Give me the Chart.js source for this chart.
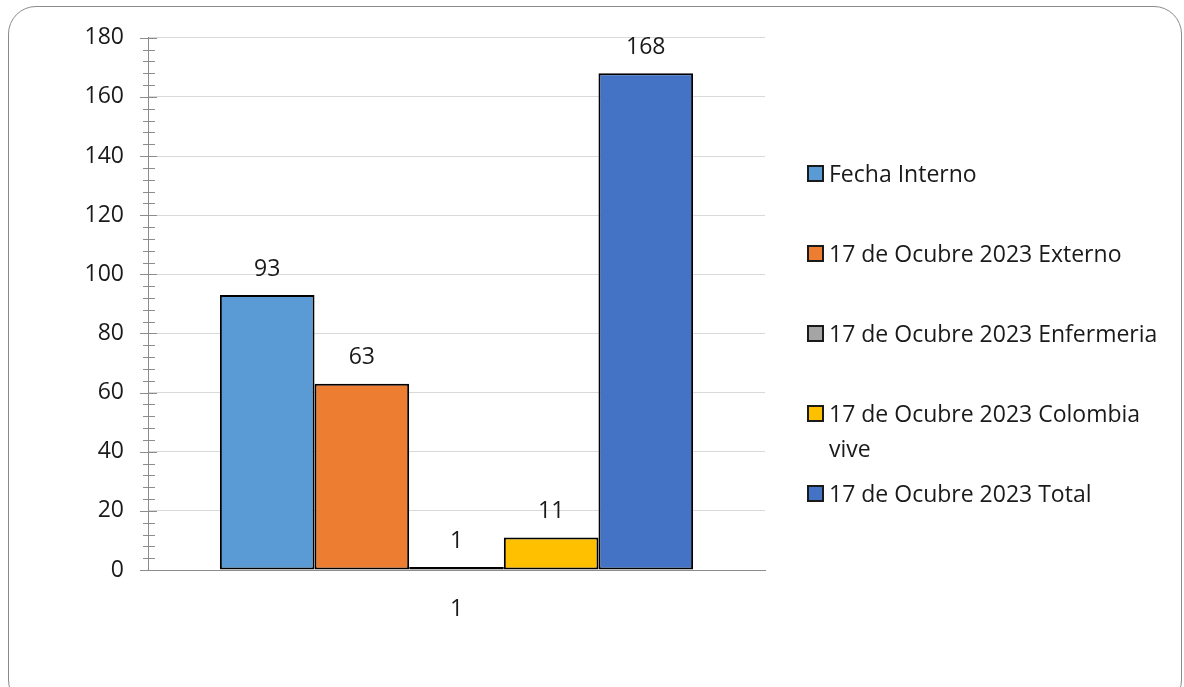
<!DOCTYPE html>
<html lang="es">
<head>
  <meta charset="UTF-8">
  <title>17 de Ocubre 2023</title>
  <script src="https://cdn.jsdelivr.net/npm/chart.js"></script>
  <style>
    body {
      margin: 0;
      background: #ffffff;
      font-family: "Open Sans", sans-serif;
      overflow: hidden;
    }
    #frame {
      position: absolute;
      left: 8px;
      top: 6px;
      width: 1172px;
      height: 700px;
      border: 1px solid #8a8a8a;
      border-radius: 28px;
    }
    #chart {
      position: absolute;
      left: 0;
      top: 0;
    }
    #legend {
      position: absolute;
      left: 807px;
      top: 0;
    }
    .item {
      position: absolute;
      left: 0;
      width: 370px;
    }
    .box {
      position: absolute;
      left: 0;
      top: 9px;
      width: 13px;
      height: 13px;
      border: 2px solid #1a1a1a;
    }
    .text {
      position: absolute;
      left: 22px;
      top: 0;
      width: 340px;
      font-size: 23px;
      line-height: 35px;
      color: #1a1a1a;
    }
  </style>
</head>
<body>

  <div id="frame"></div>
  <canvas id="chart" width="1184" height="687"></canvas>
  <div id="legend"></div>

  <script>
    const categories = ['1'];
    const seriesNames = [
      'Fecha Interno',
      '17 de Ocubre 2023 Externo',
      '17 de Ocubre 2023 Enfermeria',
      '17 de Ocubre 2023 Colombia vive',
      '17 de Ocubre 2023 Total'
    ];
    const seriesValues = [93, 63, 1, 11, 168];
    const seriesColors = ['#5B9BD5', '#ED7D31', '#A5A5A5', '#FFC000', '#4472C4'];
    const yTicks = [0, 20, 40, 60, 80, 100, 120, 140, 160, 180];
    const minorStep = 4;

    const axisGray = '#8c8c8c';
    const fontFamily = '"Open Sans", sans-serif';

    // minor/major tick marks that cross the value axis, like the original
    const crossTicks = {
      id: 'crossTicks',
      afterDraw(chart) {
        const y = chart.scales.y;
        const ctx = chart.ctx;
        const x0 = y.right;
        ctx.save();
        ctx.strokeStyle = axisGray;
        ctx.lineWidth = 1;
        y.ticks.forEach(t => {
          const p = Math.round(y.getPixelForValue(t.value)) + 0.5;
          const major = yTicks.includes(t.value);
          ctx.beginPath();
          ctx.moveTo(x0 - (major ? 8 : 5), p);
          ctx.lineTo(x0 + (major ? 9 : 7), p);
          ctx.stroke();
        });
        ctx.restore();
      }
    };

    // value labels above each bar
    const valueLabels = {
      id: 'valueLabels',
      afterDatasetsDraw(chart) {
        const ctx = chart.ctx;
        ctx.save();
        ctx.font = '23px ' + fontFamily;
        ctx.fillStyle = '#1a1a1a';
        ctx.textAlign = 'center';
        ctx.textBaseline = 'middle';
        chart.data.datasets.forEach((ds, i) => {
          const meta = chart.getDatasetMeta(i);
          meta.data.forEach((bar, j) => {
            ctx.fillText(ds.data[j], bar.x, bar.y - 26);
          });
        });
        ctx.restore();
      }
    };

    const datasets = seriesNames.map((name, i) => ({
      label: name,
      data: [seriesValues[i]],
      backgroundColor: seriesColors[i],
      borderColor: '#000000',
      borderWidth: 2,
      borderSkipped: false,
      categoryPercentage: 0.767,
      barPercentage: 1
    }));

    new Chart(document.getElementById('chart').getContext('2d'), {
      type: 'bar',
      data: { labels: categories, datasets: datasets },
      options: {
        responsive: false,
        animation: false,
        layout: { padding: { left: 0, top: 37, right: 419, bottom: 0 } },
        plugins: {
          legend: { display: false },
          tooltip: { enabled: false }
        },
        scales: {
          x: {
            grid: { display: false },
            border: { display: true, color: axisGray, width: 1 },
            ticks: {
              color: '#1a1a1a',
              padding: 18,
              font: { family: fontFamily, size: 23 }
            },
            afterFit(scale) { scale.height = 117; }
          },
          y: {
            min: 0,
            max: 180,
            grid: {
              drawTicks: false,
              color: ctx => yTicks.includes(ctx.tick.value) ? '#d9d9d9' : 'rgba(0,0,0,0)'
            },
            border: { display: true, color: axisGray, width: 1 },
            ticks: {
              autoSkip: false,
              padding: 24,
              color: '#1a1a1a',
              font: { family: fontFamily, size: 23 },
              callback: v => yTicks.includes(v) ? v : ''
            },
            afterBuildTicks(scale) {
              const ticks = [];
              for (let v = 0; v <= 180; v += minorStep) ticks.push({ value: v });
              scale.ticks = ticks;
            },
            afterFit(scale) { scale.width = 148; }
          }
        }
      },
      plugins: [crossTicks, valueLabels]
    });

    // legend on the right
    const legend = document.getElementById('legend');
    const legendRows = [173, 253, 333, 413, 493];
    seriesNames.forEach((name, i) => {
      const item = document.createElement('div');
      item.className = 'item';
      item.style.top = (legendRows[i] - 17) + 'px';
      const box = document.createElement('div');
      box.className = 'box';
      box.style.background = seriesColors[i];
      const text = document.createElement('div');
      text.className = 'text';
      text.textContent = name;
      item.appendChild(box);
      item.appendChild(text);
      legend.appendChild(item);
    });
  </script>

</body>
</html>
